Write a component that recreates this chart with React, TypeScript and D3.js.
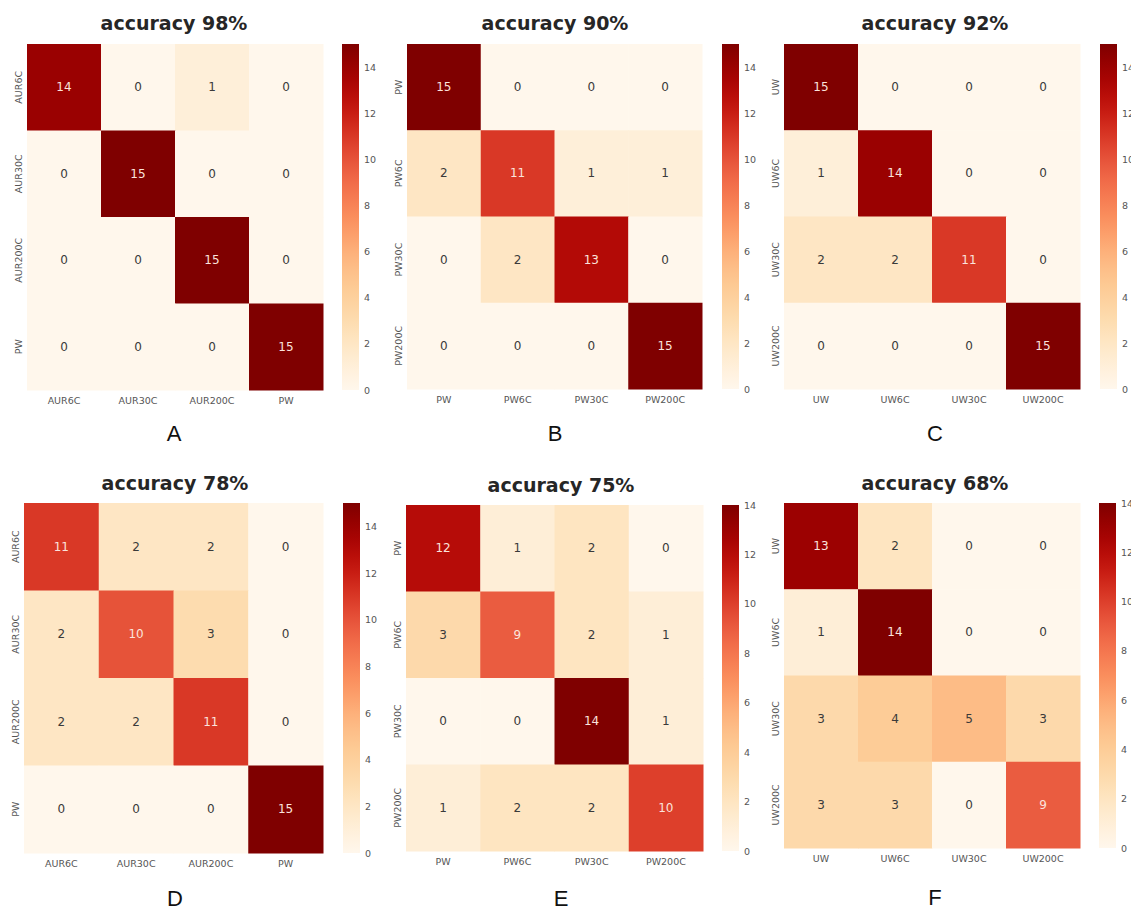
import React from "react";
import * as d3 from "d3";

// confusion matrices, rows = true class, cols = predicted class
const aurLabels = ["AUR6C", "AUR30C", "AUR200C", "PW"];
const pwLabels = ["PW", "PW6C", "PW30C", "PW200C"];
const uwLabels = ["UW", "UW6C", "UW30C", "UW200C"];

const matrixA = [[14, 0, 1, 0], [0, 15, 0, 0], [0, 0, 15, 0], [0, 0, 0, 15]];
const matrixB = [[15, 0, 0, 0], [2, 11, 1, 1], [0, 2, 13, 0], [0, 0, 0, 15]];
const matrixC = [[15, 0, 0, 0], [1, 14, 0, 0], [2, 2, 11, 0], [0, 0, 0, 15]];
const matrixD = [[11, 2, 2, 0], [2, 10, 3, 0], [2, 2, 11, 0], [0, 0, 0, 15]];
const matrixE = [[12, 1, 2, 0], [3, 9, 2, 1], [0, 0, 14, 1], [1, 2, 2, 10]];
const matrixF = [[13, 2, 0, 0], [1, 14, 0, 0], [3, 4, 5, 3], [3, 3, 0, 9]];

const accuracies = [98, 90, 92, 78, 75, 68];
const letters = ["A", "B", "C", "D", "E", "F"];
const colorbarTicks = [0, 2, 4, 6, 8, 10, 12, 14];

const panels = [
  { m: matrixA, labels: aurLabels },
  { m: matrixB, labels: pwLabels },
  { m: matrixC, labels: uwLabels },
  { m: matrixD, labels: aurLabels },
  { m: matrixE, labels: pwLabels },
  { m: matrixF, labels: uwLabels },
];

// pixel layout of each panel
const layout = [
  { left: 27, right: 323, top: 44, bottom: 390, cb: 342, titleX: 174, titleY: 30, letterY: 441 },
  { left: 407, right: 702, top: 44, bottom: 389, cb: 722, titleX: 555, titleY: 30, letterY: 441 },
  { left: 784, right: 1080, top: 44, bottom: 389, cb: 1100, titleX: 935, titleY: 30, letterY: 441 },
  { left: 24, right: 323, top: 503, bottom: 853, cb: 343, titleX: 175, titleY: 490, letterY: 906 },
  { left: 406, right: 703, top: 505, bottom: 851, cb: 722, titleX: 561, titleY: 492, letterY: 906 },
  { left: 784, right: 1080, top: 503, bottom: 848, cb: 1099, titleX: 935, titleY: 490, letterY: 905 },
];

const font = "'DejaVu Sans', sans-serif";

function Heatmap({ idx }: { idx: number }) {
  const { m, labels } = panels[idx];
  const L = layout[idx];
  const vmax = d3.max(m.flat()) as number;
  const color = d3.scaleSequential(d3.interpolateOrRd).domain([0, vmax]);
  const x = d3.scaleBand().domain(labels).range([L.left, L.right]);
  const y = d3.scaleBand().domain(labels).range([L.top, L.bottom]);
  const cbW = 17;
  const cbY = d3.scaleLinear().domain([0, vmax]).range([L.bottom, L.top]);
  const gradId = "grad" + idx;
  const stops = d3.range(0, 1.0001, 0.05);

  return (
    <g>
      <defs>
        <linearGradient id={gradId} x1="0" y1="1" x2="0" y2="0">
          {stops.map((t) => (
            <stop key={t} offset={t} stopColor={d3.interpolateOrRd(t)} />
          ))}
        </linearGradient>
      </defs>
      <text x={L.titleX} y={L.titleY} textAnchor="middle" fontFamily={font}
        fontWeight="bold" fontSize={19} fill="#262626">
        accuracy {accuracies[idx]}%
      </text>
      {m.map((row, i) =>
        row.map((v, j) => (
          <g key={i + "-" + j}>
            <rect x={x(labels[j])} y={y(labels[i])} width={x.bandwidth() + 0.5}
              height={y.bandwidth() + 0.5} fill={color(v)} />
            <text x={(x(labels[j]) as number) + x.bandwidth() / 2}
              y={(y(labels[i]) as number) + y.bandwidth() / 2}
              textAnchor="middle" dominantBaseline="central" fontFamily={font}
              fontSize={12} fill={v / vmax > 0.55 ? "#fbe3dc" : "#3a3a3a"}>
              {v}
            </text>
          </g>
        ))
      )}
      {labels.map((lab) => (
        <text key={"x" + lab} x={(x(lab) as number) + x.bandwidth() / 2} y={L.bottom + 14}
          textAnchor="middle" fontFamily={font} fontSize={9.5} fill="#555">
          {lab}
        </text>
      ))}
      {labels.map((lab) => {
        const cy = (y(lab) as number) + y.bandwidth() / 2;
        const cx = L.left - 9;
        return (
          <text key={"y" + lab} x={cx} y={cy} transform={`rotate(-90 ${cx} ${cy})`}
            textAnchor="middle" dominantBaseline="central" fontFamily={font}
            fontSize={9.5} fill="#555">
            {lab}
          </text>
        );
      })}
      <rect x={L.cb} y={L.top} width={cbW} height={L.bottom - L.top} fill={`url(#${gradId})`} />
      {colorbarTicks.map((t) => (
        <text key={"c" + t} x={L.cb + cbW + 5} y={cbY(t)} dominantBaseline="central"
          fontFamily={font} fontSize={9.5} fill="#555">
          {t}
        </text>
      ))}
      <text x={L.titleX} y={L.letterY} textAnchor="middle" fontFamily="'Liberation Sans', Arial, sans-serif"
        fontSize={22} fill="#111">
        {letters[idx]}
      </text>
    </g>
  );
}

export default function App() {
  return (
    <svg width={1131} height={909} style={{ position: "absolute", left: 0, top: 0, background: "#fff" }}>
      {panels.map((_, i) => (
        <Heatmap key={i} idx={i} />
      ))}
    </svg>
  );
}
